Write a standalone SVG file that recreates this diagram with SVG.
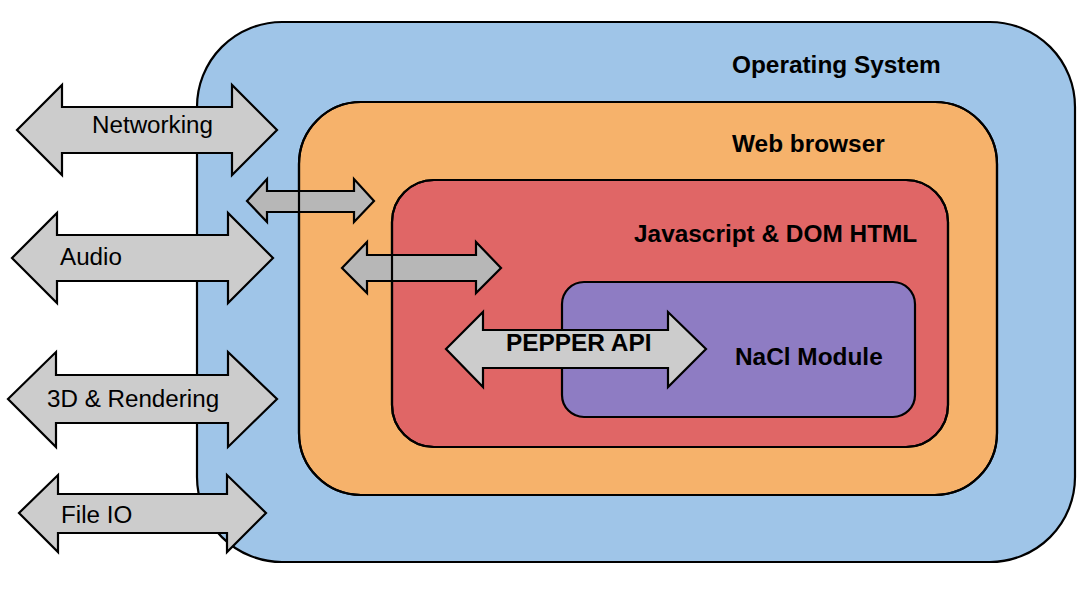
<svg xmlns="http://www.w3.org/2000/svg" width="1092" height="598" viewBox="0 0 1092 598">
<style>
.box{stroke:#000;stroke-width:2.2}
.outline{fill:none;stroke:#000;stroke-width:2.2}
.arr{stroke:#000;stroke-width:2.2;stroke-linejoin:miter}
.light{fill:#cccccc}
.dark{fill:#b7b7b7}
.title{font-family:"Liberation Sans",Arial,sans-serif;font-weight:bold;font-size:24.4px;fill:#000}
.lbl{font-family:"Liberation Sans",Arial,sans-serif;font-size:24.2px;fill:#000}
</style>
<rect width="1092" height="598" fill="#fff"/>
<g id="os">
<rect class="box" x="197" y="22" width="878" height="540" rx="85" fill="#9fc5e8"/>
<text class="title" x="732" y="73">Operating System</text>
</g>
<g id="browser">
<rect class="box" x="299" y="102" width="698" height="393" rx="62" fill="#f6b26b"/>
<text class="title" x="732" y="152">Web browser</text>
</g>
<g id="javascript">
<rect class="box" x="392" y="180" width="556" height="267" rx="42" fill="#e06666"/>
<text class="title" x="634" y="242">Javascript &amp; DOM HTML</text>
</g>
<g id="nacl">
<rect class="box" x="562" y="282" width="353" height="135" rx="22" fill="#8e7cc3"/>
<text class="title" x="735" y="365">NaCl Module</text>
</g>
<g id="connectors">
<g id="networking">
<polygon class="arr light" points="17,130 62,85 62,107 232,107 232,85 277,130 232,175 232,153 62,153 62,175"/>
<text class="lbl" x="92" y="133">Networking</text>
</g>
<g id="audio">
<polygon class="arr light" points="12,258 57,213 57,235 228,235 228,213 273,258 228,303 228,281 57,281 57,303"/>
<text class="lbl" x="60" y="265">Audio</text>
</g>
<g id="rendering">
<polygon class="arr light" points="8,399 56,352 56,375 228,375 228,352 277,399 228,447 228,423 56,423 56,447"/>
<text class="lbl" x="47" y="407">3D &amp; Rendering</text>
</g>
<g id="fileio">
<polygon class="arr light" points="19,513 58,475 58,494 227,494 227,475 266,513 227,552 227,533 58,533 58,552"/>
<text class="lbl" x="61" y="523">File IO</text>
</g>
<polygon id="os-browser" class="arr dark" points="247,201 267,179 267,191 354,191 354,179 374,201 354,222 354,212 267,212 267,222"/>
<polygon id="browser-js" class="arr dark" points="342,268 367,242 367,255 476,255 476,242 501,268 476,293 476,281 367,281 367,293"/>
<g id="pepper">
<polygon class="arr light" points="446,349 483,312 483,330 668,330 668,312 706,349 668,387 668,368 483,368 483,387"/>
<text class="title" x="506" y="351">PEPPER API</text>
</g>
</g>
<g id="box-outlines">
<rect class="outline" x="299" y="102" width="698" height="393" rx="62"/>
<rect class="outline" x="392" y="180" width="556" height="267" rx="42"/>
</g>
</svg>
